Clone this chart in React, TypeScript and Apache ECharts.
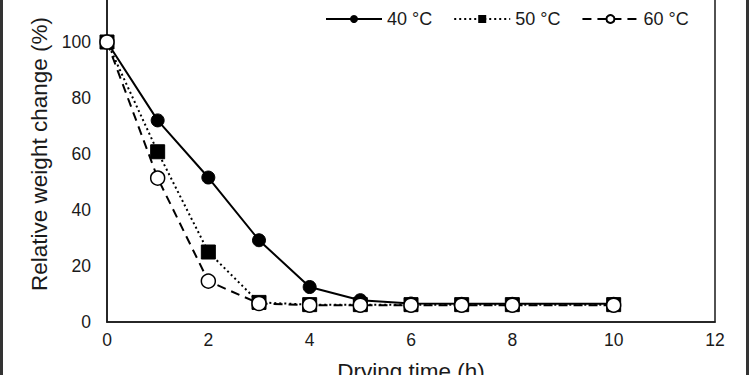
import React, { useEffect, useRef } from "react";
import * as echarts from "echarts";

const hours = [0, 1, 2, 3, 4, 5, 6, 7, 8, 10];
const s40 = [100, 72, 51.6, 29.2, 12.5, 7.8, 6.6, 6.5, 6.5, 6.5];
const s50 = [100, 60.8, 25, 7, 6.2, 6.2, 6.2, 6.2, 6.2, 6.2];
const s60 = [100, 51.4, 14.6, 6.6, 6, 6, 6, 6, 6, 6];
const seriesNames = ["40 °C", "50 °C", "60 °C"];

const FONT = "Liberation Sans, Arial, sans-serif";

export default function App() {
  const ref = useRef<HTMLDivElement>(null);
  useEffect(() => {
    document.body.style.margin = "0";
    const chart = echarts.init(ref.current!, null, { renderer: "svg" });
    const pair = (v: number[]) => hours.map((h, i) => [h, v[i]]);
    chart.setOption({
      animation: false,
      backgroundColor: "#fff",
      textStyle: { fontFamily: FONT, color: "#1a1a1a" },
      grid: {
        left: 107,
        right: 35,
        top: -14,
        bottom: 53,
        show: true,
        borderColor: "#1a1a1a",
        borderWidth: 1.5,
        outerBoundsMode: "none",
        containLabel: false,
      },
      legend: {
        top: 5,
        left: 320,
        itemWidth: 56,
        itemHeight: 10,
        itemGap: 21,
        textStyle: { fontFamily: FONT, fontSize: 18, color: "#1a1a1a" },
        data: seriesNames,
      },
      xAxis: {
        type: "value",
        min: 0,
        max: 12,
        interval: 2,
        name: "Drying time (h)",
        nameLocation: "middle",
        nameGap: 38,
        nameTextStyle: { fontFamily: FONT, fontSize: 22.5, color: "#1a1a1a" },
        axisLine: { lineStyle: { color: "#1a1a1a", width: 1.5 } },
        axisTick: { show: false },
        splitLine: { show: false },
        axisLabel: { margin: 9, fontSize: 17.5, color: "#1a1a1a", fontFamily: FONT },
      },
      yAxis: {
        type: "value",
        min: 0,
        max: 120,
        interval: 20,
        name: "Relative weight change (%)",
        nameLocation: "middle",
        nameGap: 54,
        nameTextStyle: { fontFamily: FONT, fontSize: 22.5, color: "#1a1a1a" },
        axisLine: { lineStyle: { color: "#1a1a1a", width: 1.5 } },
        axisTick: { show: false },
        splitLine: { show: false },
        axisLabel: {
          margin: 16,
          fontSize: 17.5,
          color: "#1a1a1a",
          fontFamily: FONT,
          showMaxLabel: false,
        },
      },
      series: [
        {
          name: seriesNames[0],
          type: "line",
          data: pair(s40),
          symbol: "circle",
          symbolSize: 13,
          itemStyle: { color: "#000", borderColor: "#000" },
          lineStyle: { color: "#000", width: 2, type: "solid" },
          z: 2,
        },
        {
          name: seriesNames[1],
          type: "line",
          data: pair(s50),
          symbol: "rect",
          symbolSize: 14,
          itemStyle: { color: "#000", borderColor: "#000" },
          lineStyle: { color: "#000", width: 2, type: [2, 3] },
          z: 3,
        },
        {
          name: seriesNames[2],
          type: "line",
          data: pair(s60),
          symbol: "circle",
          symbolSize: 14,
          itemStyle: { color: "#fff", borderColor: "#000", borderWidth: 1.5 },
          lineStyle: { color: "#000", width: 2, type: [9, 6] },
          z: 4,
        },
      ],
      graphic: [
        {
          type: "rect",
          shape: { x: 1.5, y: -10, width: 746, height: 400 },
          style: { fill: "none", stroke: "#333", lineWidth: 3 },
          silent: true,
        },
      ],
    });
    return () => chart.dispose();
  }, []);
  return <div ref={ref} style={{ width: 750, height: 375 }} />;
}
